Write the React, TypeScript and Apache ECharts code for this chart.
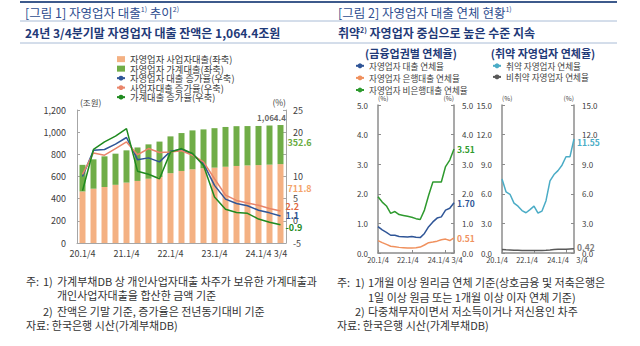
import React, { useEffect, useRef } from 'react';
import * as echarts from 'echarts';

const FONT = '"Noto Sans CJK KR", "Noto Sans", sans-serif';

// ---- categories (quarters) ----
const quarters = [
  '20.1/4', '20.2/4', '20.3/4', '20.4/4',
  '21.1/4', '21.2/4', '21.3/4', '21.4/4',
  '22.1/4', '22.2/4', '22.3/4', '22.4/4',
  '23.1/4', '23.2/4', '23.3/4', '23.4/4',
  '24.1/4', '24.2/4', '24.3/4',
];
const chart1TickIdx = [0, 4, 8, 12, 16, 18];
const chart2TickIdx = [0, 8, 16, 18];

// ---- Figure 1: balances (조원) ----
const bizLoan = [465, 490, 505, 525, 545, 560, 580, 595, 630, 650, 665, 675, 680, 688, 695, 700, 703, 707, 711.8];
const hhLoan = [240, 265, 277, 281, 291, 302, 310, 320, 332, 342, 351, 350, 356, 359, 359, 355, 353, 353, 352.6];
// ---- Figure 1: growth rates (%) ----
const growthTotal = [10.0, 15.9, 16.1, 17.3, 18.8, 13.8, 14.2, 13.3, 15.7, 16.1, 15.0, 12.9, 8.0, 4.9, 3.9, 3.4, 2.4, 1.8, 1.1];
const growthBiz = [10.5, 15.3, 14.8, 16.3, 17.8, 14.9, 16.3, 15.4, 15.5, 15.8, 14.8, 13.3, 9.5, 5.8, 4.6, 4.0, 3.5, 2.8, 2.2];
const growthHH = [6.8, 16.1, 17.8, 19.1, 20.8, 11.2, 10.5, 9.5, 15.5, 16.3, 15.2, 12.5, 5.4, 2.6, 1.9, 1.7, 0.4, -0.3, -0.9];

// ---- Figure 2: delinquency rates (%) ----
const delinqTotal = [0.89, 0.78, 0.70, 0.60, 0.60, 0.56, 0.55, 0.54, 0.56, 0.53, 0.52, 0.66, 0.89, 1.05, 1.18, 1.22, 1.45, 1.51, 1.70];
const delinqBank = [0.42, 0.35, 0.29, 0.23, 0.21, 0.19, 0.18, 0.17, 0.17, 0.18, 0.20, 0.27, 0.35, 0.37, 0.40, 0.45, 0.47, 0.42, 0.51];
const delinqNonBank = [1.90, 1.72, 1.59, 1.34, 1.40, 1.30, 1.27, 1.24, 1.21, 1.16, 1.13, 1.45, 1.95, 2.40, 2.40, 2.40, 2.92, 3.14, 3.51];
const delinqVulnerable = [7.5, 6.2, 5.95, 5.05, 4.75, 4.3, 4.08, 4.4, 4.75, 4.05, 4.25, 5.3, 7.3, 7.95, 8.35, 8.9, 9.75, 9.76, 11.55];
const delinqNonVulnerable = [0.35, 0.32, 0.30, 0.28, 0.27, 0.26, 0.25, 0.25, 0.25, 0.25, 0.25, 0.27, 0.30, 0.35, 0.38, 0.38, 0.37, 0.40, 0.42];

const NAMES = {
  biz: '자영업자 사업자대출(좌축)',
  hh: '자영업자 가계대출(좌축)',
  gTot: '자영업자 대출 증가율(우축)',
  gBiz: '사업자대출 증가율(우축)',
  gHH: '가계대출 증가율(우축)',
  dTot: '자영업자 대출 연체율',
  dBank: '자영업자 은행대출 연체율',
  dNon: '자영업자 비은행대출 연체율',
  dVul: '취약 자영업자 연체율',
  dNonVul: '비취약 자영업자 연체율',
};

const C = {
  barBiz: '#f4b183',
  barHH: '#70ad47',
  lineTot: '#2f5597',
  lineBiz: '#e9856a',
  lineHH: '#1f8a1f',
  dTot: '#2f5597',
  dBank: '#f0915e',
  dNon: '#2e9a2e',
  dVul: '#4bacc6',
  dNonVul: '#595959',
  axis1: '#a6a6a6',
  axis2: '#8c8c8c',
  tick: '#404040',
  title: '#2e4d8f',
  subtitle: '#1f3a78',
  note: '#333333',
};

const last = quarters.length - 1;

function barEnd(arr: number[], color: string, extra: any = {}) {
  return arr.map((v, i) =>
    i === last
      ? {
          value: v,
          label: {
            show: true,
            position: 'right',
            distance: 4,
            color,
            fontWeight: 'bold',
            fontSize: 9,
            fontFamily: FONT,
            formatter: (p: any) => Number(p.value).toFixed(1),
            ...extra,
          },
        }
      : v
  );
}

function endLabel(color: string, digits: number, extra: any = {}) {
  return {
    show: true,
    distance: 4,
    color,
    fontWeight: 'bold',
    fontSize: 9,
    fontFamily: FONT,
    formatter: (p: any) => Number(p.value).toFixed(digits),
    ...extra,
  };
}

function shiftRich(shifts: Record<number, number>, fontSize: number) {
  const rich: any = {};
  Object.keys(shifts).forEach((k) => {
    const d = shifts[Number(k)];
    rich['s' + k] = {
      fontSize,
      color: C.tick,
      fontFamily: FONT,
      padding: d >= 0 ? [0, 0, 0, 2 * d] : [0, -2 * d, 0, 0],
    };
  });
  return rich;
}

function xCat2(gridIndex: number, shifts: Record<number, number>) {
  return {
    type: 'category',
    gridIndex,
    data: quarters,
    boundaryGap: false,
    axisLine: { show: true, lineStyle: { color: C.axis2, width: 1.5 } },
    axisTick: {
      show: true,
      inside: true,
      length: 3,
      interval: (i: number) => chart2TickIdx.includes(i),
      lineStyle: { color: C.axis2 },
    },
    axisLabel: {
      interval: (i: number) => chart2TickIdx.includes(i),
      margin: 3,
      formatter: (v: string, i: number) => `{s${i}|${i === last ? v.split('.')[1] : v}}`,
      rich: shiftRich(shifts, 7.5),
    },
    splitLine: { show: false },
  };
}

function yVal2(gridIndex: number, max: number, interval: number, side: 'left' | 'right') {
  return {
    type: 'value',
    gridIndex,
    position: side,
    min: 0,
    max,
    interval,
    name: '(%)',
    nameLocation: 'end',
    nameGap: 4,
    nameTextStyle: { fontSize: 6.5, color: C.tick, fontFamily: FONT, align: side === 'left' ? 'left' : 'right' },
    axisLine: { show: true, lineStyle: { color: C.axis2, width: 1.5 } },
    axisTick: { show: true, inside: true, length: 3, lineStyle: { color: C.axis2 } },
    splitLine: { show: false },
    axisLabel: {
      fontSize: 8,
      color: C.tick,
      fontFamily: FONT,
      margin: side === 'left' ? 10 : 8,
      formatter: (v: number) => v.toFixed(1),
    },
  };
}

function gText(x: number, y: number, text: string, opts: any = {}) {
  return {
    type: 'text',
    x,
    y,
    silent: true,
    style: {
      text,
      fill: C.note,
      fontSize: 11,
      fontFamily: FONT,
      verticalAlign: 'middle',
      align: 'left',
      ...opts,
    },
  };
}

function richTitle(x: number, y: number, text: string, size: number, color: string, weight: string) {
  return {
    type: 'text',
    x,
    y,
    silent: true,
    style: {
      text,
      verticalAlign: 'middle',
      align: 'left',
      rich: {
        t: { fontSize: size, fill: color, fontFamily: FONT, fontWeight: weight },
        s: { fontSize: 7, fill: color, fontFamily: FONT, fontWeight: weight, verticalAlign: 'top' },
      },
    },
  };
}

function hLine(x1: number, x2: number, y: number, stroke: string, w: number) {
  return { type: 'line', silent: true, shape: { x1, y1: y, x2, y2: y }, style: { stroke, lineWidth: w } };
}

function buildOption(): any {
  const lineBase = { type: 'line', symbol: 'none', z: 4 };
  const total = bizLoan[last] + hhLoan[last];

  return {
    animation: false,
    textStyle: { fontFamily: FONT },
    grid: [
      { left: 77, top: 110, width: 209, height: 133 },
      { left: 378, top: 105, width: 76, height: 148 },
      { left: 502, top: 105, width: 72, height: 148 },
    ],
    legend: [
      {
        orient: 'vertical',
        left: 116,
        top: 54.5,
        padding: 0,
        itemWidth: 8,
        itemHeight: 6,
        itemGap: 0.2,
        selectedMode: false,
        textStyle: { fontSize: 9.3, lineHeight: 9, color: C.tick, fontFamily: FONT },
        data: [
          { name: NAMES.biz, icon: 'rect' },
          { name: NAMES.hh, icon: 'rect' },
          NAMES.gTot,
          NAMES.gBiz,
          NAMES.gHH,
        ],
      },
      {
        orient: 'vertical',
        left: 355,
        top: 61.5,
        padding: 0,
        itemWidth: 8,
        itemHeight: 6,
        itemGap: 3.5,
        selectedMode: false,
        textStyle: { fontSize: 8.6, lineHeight: 8.5, color: C.tick, fontFamily: FONT },
        data: [NAMES.dTot, NAMES.dBank, NAMES.dNon],
      },
      {
        orient: 'vertical',
        left: 492,
        top: 61.5,
        padding: 0,
        itemWidth: 8,
        itemHeight: 6,
        itemGap: 2.5,
        selectedMode: false,
        textStyle: { fontSize: 8.6, lineHeight: 8.5, color: C.tick, fontFamily: FONT },
        data: [NAMES.dVul, NAMES.dNonVul],
      },
    ],
    xAxis: [
      {
        type: 'category',
        gridIndex: 0,
        data: quarters,
        boundaryGap: true,
        axisLine: { show: true, lineStyle: { color: C.axis1 } },
        axisTick: { show: false },
        splitLine: { show: false },
        axisLabel: {
          interval: (i: number) => chart1TickIdx.includes(i),
          margin: 6,
          fontSize: 9,
          color: C.tick,
          fontFamily: FONT,
          formatter: (v: string, i: number) => (i === last ? v.split('.')[1] : v),
        },
      },
      xCat2(1, { 0: 0, 8: -4, 16: -7, 18: 3 }),
      xCat2(2, { 0: -5, 8: -7, 16: -8, 18: 8 }),
    ],
    yAxis: [
      {
        type: 'value',
        gridIndex: 0,
        position: 'left',
        min: 0,
        max: 1200,
        interval: 200,
        name: '(조원)',
        nameLocation: 'end',
        nameGap: 4,
        nameTextStyle: { fontSize: 8.5, color: C.tick, fontFamily: FONT, align: 'left', padding: [0, 0, 0, 3] },
        axisLine: { show: true, lineStyle: { color: C.axis1 } },
        axisTick: { show: true, inside: true, length: 3, lineStyle: { color: C.axis1 } },
        splitLine: { show: false },
        axisLabel: {
          fontSize: 9,
          color: C.tick,
          fontFamily: FONT,
          margin: 11,
          formatter: (v: number) => v.toLocaleString('en-US'),
        },
      },
      {
        type: 'value',
        gridIndex: 0,
        position: 'right',
        min: -5,
        max: 25,
        interval: 5,
        name: '(%)',
        nameLocation: 'end',
        nameGap: 4,
        nameTextStyle: { fontSize: 8.5, color: C.tick, fontFamily: FONT, align: 'right' },
        axisLine: { show: true, lineStyle: { color: C.axis1 } },
        axisTick: { show: true, inside: true, length: 3, lineStyle: { color: C.axis1 } },
        splitLine: { show: false },
        axisLabel: {
          fontSize: 9,
          color: C.tick,
          fontFamily: FONT,
          margin: 7,
          formatter: (v: number) => (v === 15 ? '' : String(v)),
        },
      },
      yVal2(1, 5, 1, 'left'),
      yVal2(1, 5, 1, 'right'),
      yVal2(2, 15, 3, 'left'),
      yVal2(2, 15, 3, 'right'),
    ],
    series: [
      {
        type: 'bar',
        name: NAMES.biz,
        xAxisIndex: 0,
        yAxisIndex: 0,
        stack: 'loan',
        barWidth: 6,
        itemStyle: { color: C.barBiz },
        data: barEnd(bizLoan, '#f4a36a', { offset: [0, -15] }),
      },
      {
        type: 'bar',
        name: NAMES.hh,
        xAxisIndex: 0,
        yAxisIndex: 0,
        stack: 'loan',
        barWidth: 6,
        itemStyle: { color: C.barHH },
        data: barEnd(hhLoan, '#6aab3f', { offset: [0, -2] }),
      },
      {
        type: 'scatter',
        name: 'total',
        xAxisIndex: 0,
        yAxisIndex: 0,
        symbolSize: 0,
        silent: true,
        data: [[last, total]],
        label: {
          show: true,
          position: 'top',
          distance: 4,
          offset: [-9, 0],
          fontSize: 8,
          fontWeight: 'bold',
          color: '#404040',
          fontFamily: FONT,
          formatter: (p: any) =>
            Number(p.value[1]).toLocaleString('en-US', { minimumFractionDigits: 1, maximumFractionDigits: 1 }),
        },
      },
      {
        ...lineBase,
        name: NAMES.gTot,
        xAxisIndex: 0,
        yAxisIndex: 1,
        color: C.lineTot,
        lineStyle: { color: C.lineTot, width: 1.5 },
        endLabel: endLabel(C.lineTot, 1, { distance: 5 }),
        data: growthTotal,
      },
      {
        ...lineBase,
        name: NAMES.gBiz,
        xAxisIndex: 0,
        yAxisIndex: 1,
        color: C.lineBiz,
        lineStyle: { color: C.lineBiz, width: 1.5 },
        endLabel: endLabel('#e2673f', 1, { distance: 5, offset: [0, -5] }),
        data: growthBiz,
      },
      {
        ...lineBase,
        name: NAMES.gHH,
        xAxisIndex: 0,
        yAxisIndex: 1,
        color: C.lineHH,
        lineStyle: { color: C.lineHH, width: 1.5 },
        endLabel: endLabel(C.lineHH, 1, { distance: 5, offset: [0, 3] }),
        data: growthHH,
      },
      {
        ...lineBase,
        name: NAMES.dTot,
        xAxisIndex: 1,
        yAxisIndex: 2,
        color: C.dTot,
        lineStyle: { color: C.dTot, width: 1.5 },
        endLabel: endLabel(C.dTot, 2, { fontSize: 8.5, distance: 3 }),
        data: delinqTotal,
      },
      {
        ...lineBase,
        name: NAMES.dBank,
        xAxisIndex: 1,
        yAxisIndex: 2,
        color: C.dBank,
        lineStyle: { color: C.dBank, width: 1.5 },
        endLabel: endLabel(C.dBank, 2, { fontSize: 8.5, distance: 3 }),
        data: delinqBank,
      },
      {
        ...lineBase,
        name: NAMES.dNon,
        xAxisIndex: 1,
        yAxisIndex: 2,
        color: C.dNon,
        lineStyle: { color: C.dNon, width: 1.5 },
        endLabel: endLabel(C.dNon, 2, { fontSize: 8.5, distance: 3 }),
        data: delinqNonBank,
      },
      {
        ...lineBase,
        name: NAMES.dVul,
        xAxisIndex: 2,
        yAxisIndex: 4,
        color: C.dVul,
        lineStyle: { color: C.dVul, width: 1.5 },
        endLabel: endLabel(C.dVul, 2, { fontSize: 8.5, distance: 3, offset: [0, 3] }),
        data: delinqVulnerable,
      },
      {
        ...lineBase,
        name: NAMES.dNonVul,
        xAxisIndex: 2,
        yAxisIndex: 4,
        color: C.dNonVul,
        lineStyle: { color: C.dNonVul, width: 1.5 },
        endLabel: endLabel('#7f7f7f', 2, { fontSize: 8.5, distance: 3, offset: [0, -2] }),
        data: delinqNonVulnerable,
      },
    ],
    graphic: [
      hLine(20, 617, 2, '#3d5a8c', 2),
      hLine(20, 617, 21, '#a9bcd6', 1),
      hLine(20, 617, 43, '#a9bcd6', 1),
      richTitle(25, 12, '{t|[그림 1] 자영업자 대출}{s|1)}{t| 추이}{s|2)}', 12.5, C.title, 'normal'),
      richTitle(25, 32, '{t|24년 3/4분기말 자영업자 대출 잔액은 1,064.4조원}', 12, C.subtitle, 'bold'),
      richTitle(338, 12, '{t|[그림 2] 자영업자 대출 연체 현황}{s|1)}', 12.5, C.title, 'normal'),
      richTitle(338, 32, '{t|취약}{s|2)}{t| 자영업자 중심으로 높은 수준 지속}', 12, C.subtitle, 'bold'),
      gText(411, 53, '(금융업권별 연체율)', { fontSize: 11, fontWeight: 'bold', fill: C.subtitle, align: 'center' }),
      gText(543, 53, '(취약 자영업자 연체율)', { fontSize: 11, fontWeight: 'bold', fill: C.subtitle, align: 'center' }),
      // footnotes left
      gText(26, 281, '주:'),
      gText(43, 281, '1)'),
      gText(57, 281, '가계부채DB 상 개인사업자대출 차주가 보유한 가계대출과'),
      gText(57, 295, '개인사업자대출을 합산한 금액 기준'),
      gText(43, 311, '2)'),
      gText(57, 311, '잔액은 기말 기준, 증가율은 전년동기대비 기준'),
      gText(26, 325, '자료: 한국은행 시산(가계부채DB)'),
      // footnotes right
      gText(337, 282, '주:'),
      gText(355, 282, '1)'),
      gText(368, 282, '1개월 이상 원리금 연체 기준(상호금융 및 저축은행은'),
      gText(368, 297, '1일 이상 원금 또는 1개월 이상 이자 연체 기준)'),
      gText(355, 311, '2)'),
      gText(368, 311, '다중채무자이면서 저소득이거나 저신용인 차주'),
      gText(337, 325, '자료: 한국은행 시산(가계부채DB)'),
    ],
  };
}

export default function App() {
  const ref = useRef<HTMLDivElement>(null);
  useEffect(() => {
    document.body.style.margin = '0';
    if (!ref.current) return;
    const chart = echarts.init(ref.current, null, { renderer: 'svg' });
    chart.setOption(buildOption());
    return () => chart.dispose();
  }, []);
  return <div ref={ref} style={{ width: 640, height: 346, background: '#ffffff' }} />;
}
